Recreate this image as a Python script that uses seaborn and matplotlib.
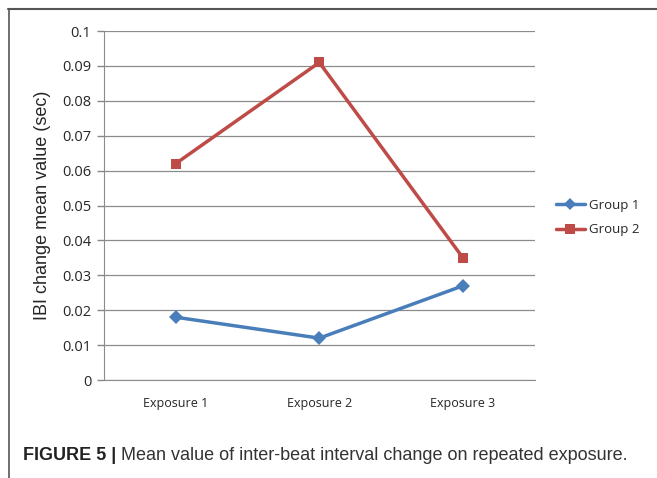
import pandas as pd
import numpy as np
import matplotlib
matplotlib.use("Agg")
import matplotlib.pyplot as plt
import seaborn as sns
from matplotlib.lines import Line2D

# values
exposures = ["Exposure 1", "Exposure 2", "Exposure 3"]
group1 = [0.018, 0.012, 0.027]
group2 = [0.062, 0.091, 0.035]
y_ticks = [0, 0.01, 0.02, 0.03, 0.04, 0.05, 0.06, 0.07, 0.08, 0.09, 0.1]
y_tick_labels = ["0", "0.01", "0.02", "0.03", "0.04", "0.05", "0.06", "0.07", "0.08", "0.09", "0.1"]

df = pd.DataFrame({
    "exposure": exposures * 2,
    "value": group1 + group2,
    "group": ["Group 1"] * 3 + ["Group 2"] * 3,
})
df["pos"] = df["exposure"].map({e: i for i, e in enumerate(exposures)})

sns.set_style("white")
plt.rcParams["font.family"] = ["Open Sans", "DejaVu Sans"]

fig = plt.figure(figsize=(6.57, 4.78), dpi=100)
ax = fig.add_axes([0.158, 0.205, 0.656, 0.730])

palette = {"Group 1": "#4A7EBB", "Group 2": "#BE4B48"}
sns.lineplot(data=df, x="pos", y="value", hue="group", style="group",
             markers={"Group 1": "D", "Group 2": "s"}, dashes=False,
             palette=palette, linewidth=2.5, markersize=7,
             markeredgewidth=0, ax=ax, legend=False)

ax.set_xlim(-0.5, 2.5)
ax.set_ylim(0, 0.1)
ax.set_yticks(y_ticks)
ax.set_yticklabels(y_tick_labels, fontsize=10.5)
ax.set_xticks([0, 1, 2])
ax.set_xticklabels(exposures, fontsize=9)
ax.set_xticks([-0.5, 0.5, 1.5, 2.5], minor=True)
ax.tick_params(axis="x", which="major", length=0, pad=12)
ax.tick_params(axis="x", which="minor", length=5, color="#888888", width=1)
ax.tick_params(axis="y", length=5, color="#888888", width=1, pad=4, direction="out", left=True)
ax.grid(axis="y", color="#8c8c8c", linewidth=0.9)
ax.set_axisbelow(True)
for side in ["top", "right"]:
    ax.spines[side].set_visible(False)
ax.spines["left"].set_color("#8c8c8c")
ax.spines["bottom"].set_color("#8c8c8c")
ax.set_xlabel("")
ax.set_ylabel("IBI change mean value (sec)", fontsize=13,
              family=["Liberation Sans", "DejaVu Sans"], labelpad=8)

handles = [
    Line2D([], [], color=palette["Group 1"], marker="D", lw=2.5, ms=6, mew=0),
    Line2D([], [], color=palette["Group 2"], marker="s", lw=2.5, ms=7, mew=0),
]
fig.legend(handles, ["Group 1", "Group 2"], loc="center left",
           bbox_to_anchor=(0.828, 0.545), frameon=False, fontsize=9.5,
           handlelength=2.2, handletextpad=0.3, labelspacing=0.9)

# frame lines of the figure panel
fig.add_artist(Line2D([8 / 657, 1.0], [1 - 8.5 / 478] * 2, color="#555555", lw=1.5))
fig.add_artist(Line2D([8.5 / 657] * 2, [0, 1 - 8.5 / 478], color="#555555", lw=1.2))

fig.text(23 / 657, 1 - 455 / 478, "FIGURE 5 |", fontsize=13, fontweight="bold",
         family=["Liberation Sans", "DejaVu Sans"], color="#222222", va="center")
fig.text(121 / 657, 1 - 455 / 478,
         "Mean value of inter-beat interval change on repeated exposure.",
         fontsize=13, family=["Liberation Sans", "DejaVu Sans"], color="#333333",
         va="center")

fig.savefig("out.png", dpi=100)
